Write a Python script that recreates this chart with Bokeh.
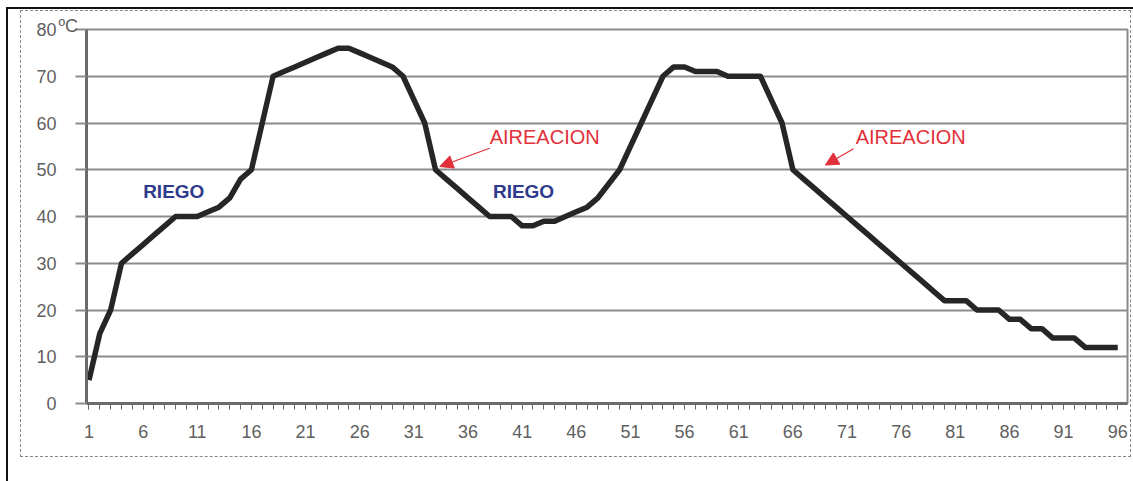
from bokeh.plotting import figure
from bokeh.models import (Range1d, FixedTicker, Arrow, NormalHead, Title,
                          InlineStyleSheet)
from bokeh.core.properties import value
from bokeh.embed import file_html
from bokeh.resources import INLINE

# ---- data ----
hours = list(range(1, 97))
temperature = [
    5, 15, 20, 30, 32, 34, 36, 38, 40, 40,
    40, 41, 42, 44, 48, 50, 60, 70, 71, 72,
    73, 74, 75, 76, 76, 75, 74, 73, 72, 70,
    65, 60, 50, 48, 46, 44, 42, 40, 40, 40,
    38, 38, 39, 39, 40, 41, 42, 44, 47, 50,
    55, 60, 65, 70, 72, 72, 71, 71, 71, 70,
    70, 70, 70, 65, 60, 50, 48, 46, 44, 42,
    40, 38, 36, 34, 32, 30, 28, 26, 24, 22,
    22, 22, 20, 20, 20, 18, 18, 16, 16, 14,
    14, 14, 12, 12, 12, 12,
]
x_tick_labels = list(range(1, 97, 5))
y_ticks = [0, 10, 20, 30, 40, 50, 60, 70, 80]
unit_text = "ºC"

riego_x = [6.0, 38.3]
riego_y = [45.4, 45.4]
riego_text = ["RIEGO", "RIEGO"]

aire_x = [38.0, 71.8]
aire_y = [57.1, 57.1]
aire_text = ["AIREACION", "AIREACION"]

arrow_start_x = [38.0, 71.6]
arrow_start_y = [54.6, 54.5]
arrow_end_x = [33.4, 69.0]
arrow_end_y = [50.7, 51.0]

RED = "#e2303a"
BLUE = "#2e3a8c"
GREY_TXT = "#5f5f5f"
FONT = "Liberation Sans"

css = """
:host { position: relative; }
:host::before {
  content: ""; position: absolute; left: 6px; top: 7px; right: 0; bottom: 0;
  border-left: 2px solid #111; border-top: 2px solid #111;
  pointer-events: none; z-index: 5;
}
:host::after {
  content: ""; position: absolute; left: 20px; top: 10px; width: 1111px; height: 447px;
  border: 1.5px dashed #888; box-sizing: border-box;
  pointer-events: none; z-index: 5;
}
"""

p = figure(width=1133, height=481, output_backend="svg", toolbar_location=None,
           x_range=Range1d(0.77, 96.9), y_range=Range1d(0, 80),
           min_border_left=86, min_border_right=6, min_border_top=29,
           min_border_bottom=78, background_fill_color="white",
           border_fill_color="white",
           stylesheets=[InlineStyleSheet(css=css)])

p.outline_line_color = "#8a8a8a"
p.outline_line_width = 2

# unit title, placed just left of the plot frame top
p.add_layout(Title(text=unit_text, align="left", offset=-28, standoff=-13,
                   text_font=FONT, text_font_size="18px",
                   text_font_style="normal", text_color=GREY_TXT,
                   vertical_align="bottom"), "above")

# grid
p.xgrid.grid_line_color = None
p.ygrid.ticker = FixedTicker(ticks=y_ticks)
p.ygrid.grid_line_color = "#8c8c8c"
p.ygrid.grid_line_width = 2

# y axis
ya = p.yaxis[0]
ya.ticker = FixedTicker(ticks=y_ticks)
ya.axis_line_color = "#6a6a6a"
ya.axis_line_width = 3
ya.major_tick_line_color = "#8c8c8c"
ya.major_tick_line_width = 2
ya.major_tick_out = 11
ya.major_tick_in = 0
ya.minor_tick_line_color = None
ya.major_label_standoff = 19
ya.major_label_text_font = FONT
ya.major_label_text_font_size = "18px"
ya.major_label_text_color = GREY_TXT

# x axis
xa = p.xaxis[0]
xa.ticker = FixedTicker(ticks=x_tick_labels, minor_ticks=hours)
xa.axis_line_color = "#6a6a6a"
xa.axis_line_width = 3
xa.major_tick_line_color = "#6a6a6a"
xa.major_tick_out = 6
xa.major_tick_in = 0
xa.minor_tick_line_color = "#6a6a6a"
xa.minor_tick_out = 6
xa.minor_tick_in = 0
xa.major_label_standoff = 15
xa.major_label_text_font = FONT
xa.major_label_text_font_size = "18px"
xa.major_label_text_color = GREY_TXT

# curve
p.line(hours, temperature, line_color="#262626", line_width=5.5,
       line_join="round")

# annotations
p.text(riego_x, riego_y, text=riego_text, text_color=BLUE,
       text_font=value(FONT), text_font_size="19px", text_font_style="bold",
       text_baseline="middle", text_align="left")
p.text(aire_x, aire_y, text=aire_text, text_color=RED,
       text_font=value(FONT), text_font_size="20px",
       text_baseline="middle", text_align="left")
for xs, ys, xe, ye in zip(arrow_start_x, arrow_start_y, arrow_end_x, arrow_end_y):
    p.add_layout(Arrow(end=NormalHead(size=13, fill_color=RED, line_color=RED),
                       x_start=xs, y_start=ys, x_end=xe, y_end=ye,
                       line_color=RED, line_width=1.2))

open("out.html", "w").write(file_html(p, INLINE))
